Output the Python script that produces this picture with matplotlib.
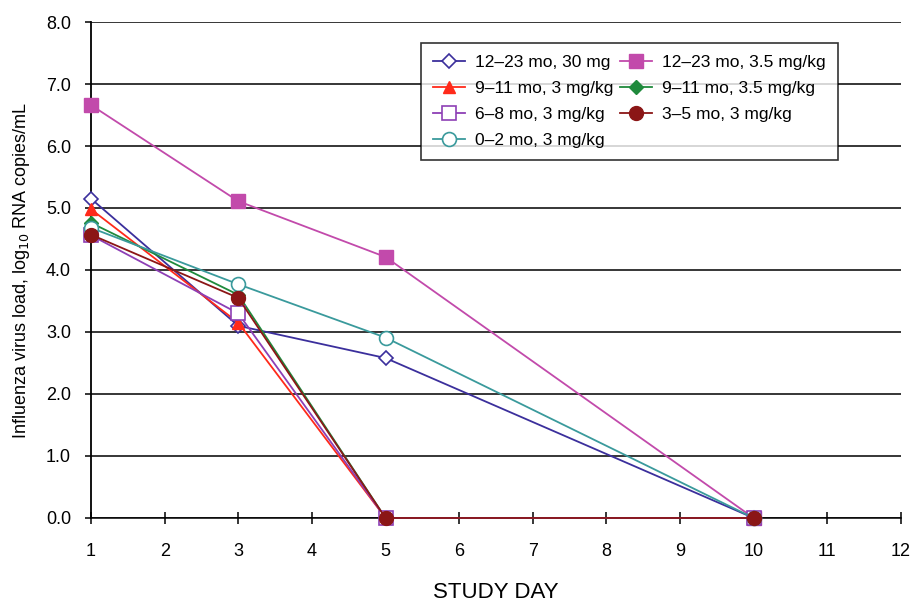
import matplotlib
matplotlib.use("Agg")
import matplotlib.pyplot as plt

plt.rcParams['font.family'] = ['Liberation Sans', 'DejaVu Sans']

# study days per series (all go to 0 on day 10)
days_long = [1, 3, 5, 10]
days_short = [1, 3, 5, 10]

# viral load, log10 RNA copies/mL
mo12_30mg = [5.15, 3.10, 2.58, 0.0]
mo12_35mgkg = [6.66, 5.11, 4.21, 0.0]
mo9_3mgkg = [4.98, 3.15, 0.0, 0.0]
mo9_35mgkg = [4.76, 3.60, 0.0, 0.0]
mo6_3mgkg = [4.56, 3.30, 0.0, 0.0]
mo3_3mgkg = [4.57, 3.55, 0.0, 0.0]
mo0_3mgkg = [4.68, 3.77, 2.91, 0.0]

x_ticks = list(range(1, 13))
y_ticks = [0, 1, 2, 3, 4, 5, 6, 7, 8]
y_ticklabels = ['%.1f' % v for v in y_ticks]

fig = plt.figure(figsize=(9.12, 6.03), dpi=100)
ax = fig.add_axes([0.0998, 0.141, 0.888, 0.8225])

# horizontal grid lines
for v in y_ticks:
    ax.axhline(v, color='black', lw=1.1, zorder=1)

lw = 1.3
common = dict(lw=lw, clip_on=False)
h1, = ax.plot(days_long, mo12_30mg, color='#3b2f9c', marker='D', ms=7,
              mfc='white', mec='#3b2f9c', mew=1.2, label='12\u201323 mo, 30 mg', zorder=3, **common)
h2, = ax.plot(days_long, mo12_35mgkg, color='#c24aab', marker='s', ms=10,
              mfc='#c24aab', mec='#c24aab', label='12\u201323 mo, 3.5 mg/kg', zorder=3, **common)
h3, = ax.plot(days_short, mo9_3mgkg, color='#ff2a1a', marker='^', ms=9,
              mfc='#ff2a1a', mec='#ff2a1a', label='9\u201311 mo, 3 mg/kg', zorder=3, **common)
h4, = ax.plot(days_short, mo9_35mgkg, color='#1f8a3c', marker='D', ms=7,
              mfc='#1f8a3c', mec='#1f8a3c', label='9\u201311 mo, 3.5 mg/kg', zorder=3, **common)
h5, = ax.plot(days_short, mo6_3mgkg, color='#8d3fb5', marker='s', ms=10,
              mfc='white', mec='#8d3fb5', mew=1.2, label='6\u20138 mo, 3 mg/kg', zorder=3, **common)
h7, = ax.plot(days_long, mo0_3mgkg, color='#3a9a9c', marker='o', ms=10,
              mfc='white', mec='#3a9a9c', mew=1.2, label='0\u20132 mo, 3 mg/kg', zorder=3, **common)
h6, = ax.plot(days_short, mo3_3mgkg, color='#8b1616', marker='o', ms=10,
              mfc='#8b1616', mec='#8b1616', label='3\u20135 mo, 3 mg/kg', zorder=4, **common)

ax.set_xlim(1, 12)
ax.set_ylim(0, 8)
ax.set_xticks(x_ticks)
ax.set_yticks(y_ticks)
ax.set_yticklabels(y_ticklabels)
ax.tick_params(axis='x', direction='inout', length=8, width=1.1, labelsize=13, pad=14)
ax.tick_params(axis='y', direction='out', length=4.5, width=1.1, labelsize=13, pad=10)

for s in ['top', 'right']:
    ax.spines[s].set_visible(False)
ax.spines['left'].set_linewidth(1.3)
ax.spines['bottom'].set_linewidth(1.1)

ax.set_xlabel('STUDY DAY', fontsize=16, labelpad=16)
ax.set_ylabel('Influenza virus load, log$_{10}$ RNA copies/mL', fontsize=13, labelpad=10)

leg = ax.legend(handles=[h1, h3, h5, h7, h2, h4, h6], ncol=2, loc='upper right',
                bbox_to_anchor=(0.922, 0.958), borderaxespad=0, fontsize=12.5,
                frameon=True, fancybox=False, edgecolor='black', handlelength=1.8,
                columnspacing=0.4, handletextpad=0.6, borderpad=0.7, labelspacing=0.62)
leg.get_frame().set_linewidth(1.2)
leg.set_zorder(5)

fig.savefig('out.png', dpi=100)
